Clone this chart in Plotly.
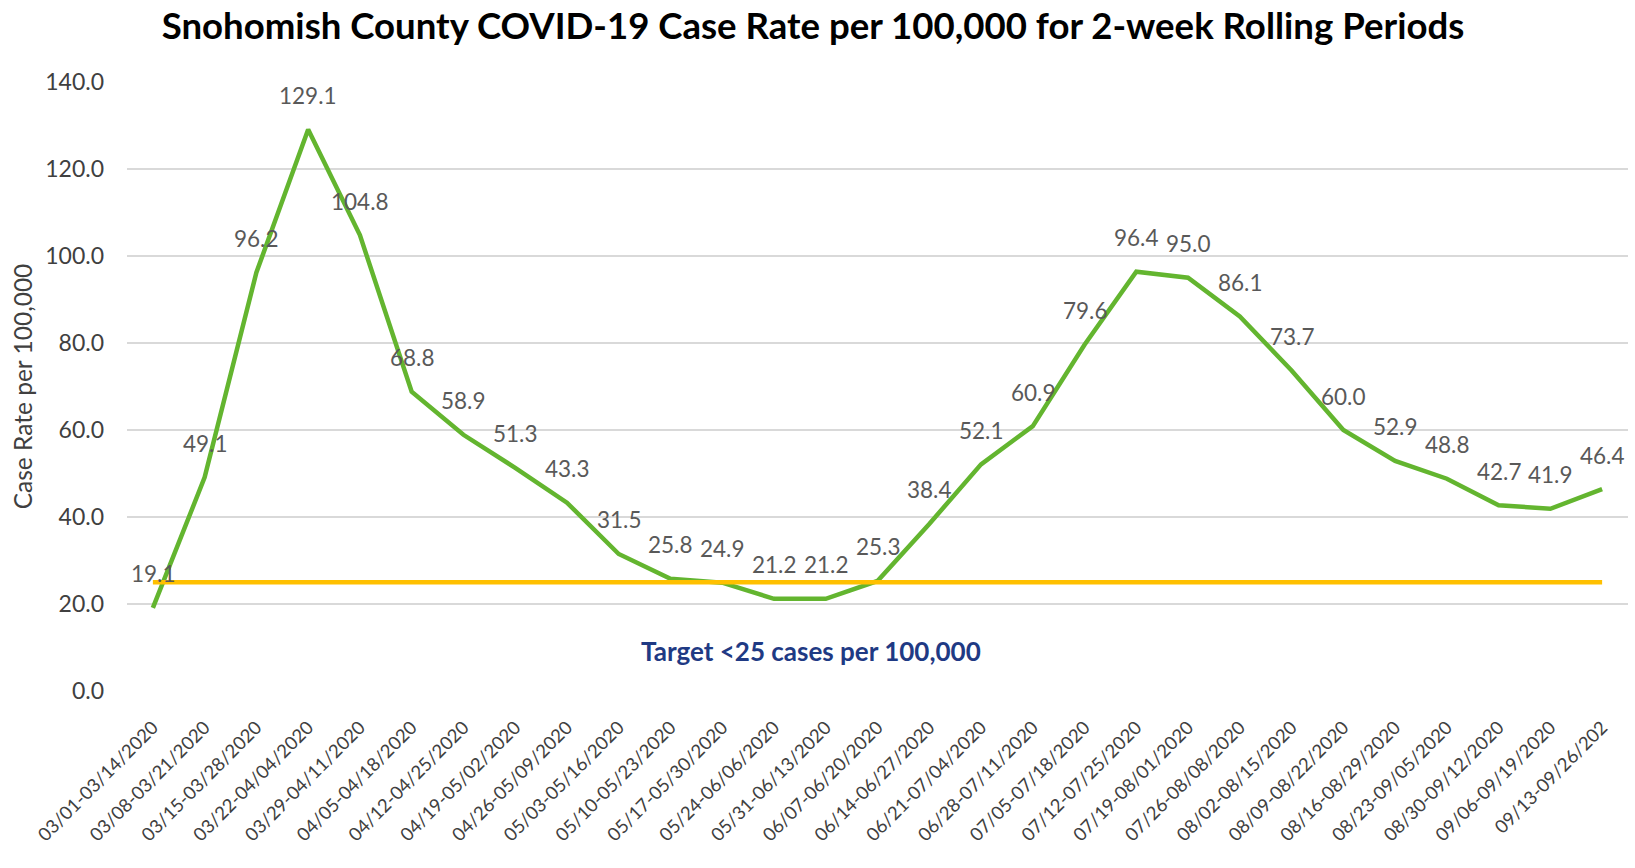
import plotly.graph_objects as go

periods = [
    "03/01-03/14/2020", "03/08-03/21/2020", "03/15-03/28/2020", "03/22-04/04/2020",
    "03/29-04/11/2020", "04/05-04/18/2020", "04/12-04/25/2020", "04/19-05/02/2020",
    "04/26-05/09/2020", "05/03-05/16/2020", "05/10-05/23/2020", "05/17-05/30/2020",
    "05/24-06/06/2020", "05/31-06/13/2020", "06/07-06/20/2020", "06/14-06/27/2020",
    "06/21-07/04/2020", "06/28-07/11/2020", "07/05-07/18/2020", "07/12-07/25/2020",
    "07/19-08/01/2020", "07/26-08/08/2020", "08/02-08/15/2020", "08/09-08/22/2020",
    "08/16-08/29/2020", "08/23-09/05/2020", "08/30-09/12/2020", "09/06-09/19/2020",
    "09/13-09/26/202",
]
case_rate = [
    19.1, 49.1, 96.2, 129.1, 104.8, 68.8, 58.9, 51.3, 43.3, 31.5,
    25.8, 24.9, 21.2, 21.2, 25.3, 38.4, 52.1, 60.9, 79.6, 96.4,
    95.0, 86.1, 73.7, 60.0, 52.9, 48.8, 42.7, 41.9, 46.4,
]
target = 25
y_ticks = [0, 20, 40, 60, 80, 100, 120, 140]

FONT = "Lato"
W, H = 1635, 868

fig = go.Figure()
fig.add_trace(go.Scatter(
    x=periods, y=case_rate, mode="lines",
    line=dict(color="#63B52F", width=4.5),
    hoverinfo="x+y", showlegend=False,
))
fig.add_trace(go.Scatter(
    x=[periods[0], periods[-1]], y=[target, target], mode="lines",
    line=dict(color="#FFC000", width=4.5),
    showlegend=False,
))

annotations = []
for p, v in zip(periods, case_rate):
    annotations.append(dict(
        x=p, y=v, text=f"{v:.1f}", showarrow=False, yshift=34,
        font=dict(family=FONT, size=22.5, color="#595959"),
        xanchor="center", yanchor="middle",
    ))
annotations.append(dict(
    x=0.456, xref="paper", y=9.3, yref="y",
    text="<b>Target &lt;25 cases per 100,000</b>", showarrow=False,
    font=dict(family=FONT, size=26, color="#1F3A84"),
    xanchor="center", yanchor="middle",
))

fig.update_layout(
    width=W, height=H,
    paper_bgcolor="white", plot_bgcolor="white",
    margin=dict(l=127, r=7, t=82, b=177),
    title=dict(
        text="<b>Snohomish County COVID-19 Case Rate per 100,000 for 2-week Rolling Periods</b>",
        x=813 / W, xref="container", xanchor="center",
        y=1 - 26 / H, yref="container", yanchor="middle",
        font=dict(family=FONT, size=36.6, color="#000000"),
    ),
    annotations=annotations,
    font=dict(family=FONT, color="#404040"),
)
fig.update_xaxes(
    type="category", range=[-0.5, len(periods) - 0.5],
    tickangle=-45, tickfont=dict(family=FONT, size=18.5, color="#404040"),
    showgrid=False, showline=False, zeroline=False,
    ticklabelstandoff=21,
)
fig.update_yaxes(
    range=[0, 140], tickvals=y_ticks, tickformat=".1f",
    tickfont=dict(family=FONT, size=23, color="#404040"),
    showgrid=True, gridcolor="#D9D9D9", gridwidth=1.5,
    zeroline=False, showline=False,
    ticklabelstandoff=22,
    title=dict(text="Case Rate per 100,000", standoff=5,
               font=dict(family=FONT, size=24.5, color="#404040")),
)

fig.write_html(
    "out.html",
    config={"displayModeBar": False},
    post_script="document.body.style.margin='0';document.body.style.overflow='hidden';",
)
